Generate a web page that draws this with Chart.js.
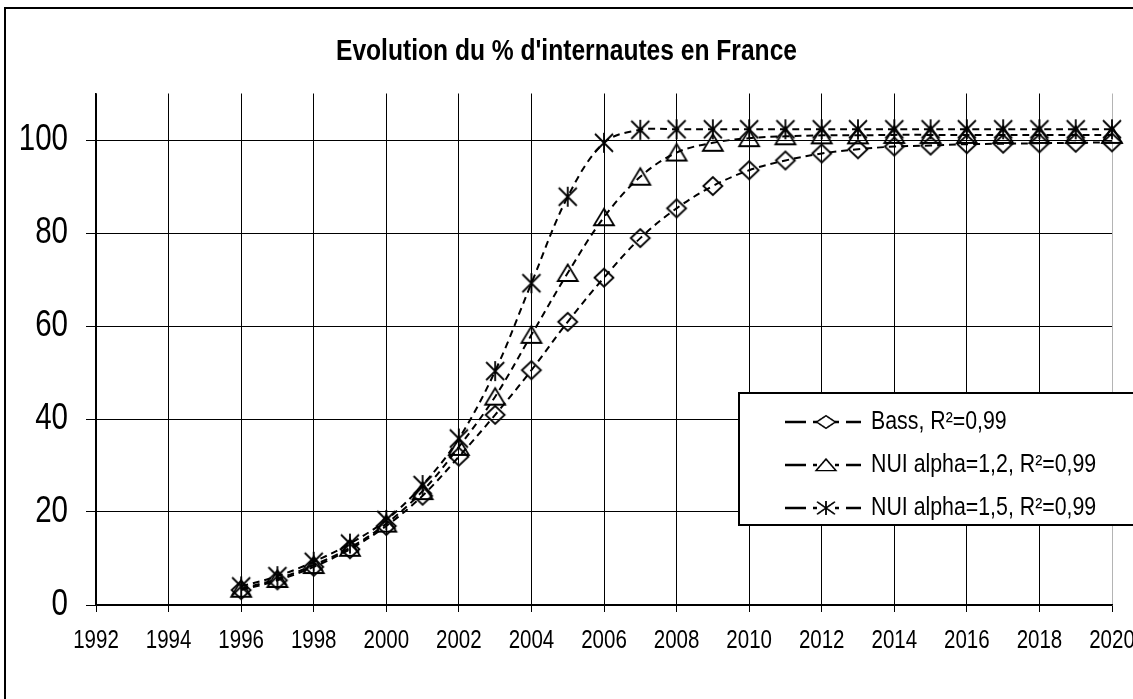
<!DOCTYPE html>
<html lang="fr">
  <head>
    <meta charset="UTF-8" />
    <title>Evolution du % d'internautes en France</title>
    <script src="https://cdn.jsdelivr.net/npm/chart.js@4"></script>
    <style>
      body {
        margin: 0;
        background: #fff;
        overflow: hidden;
      }
      #wrap {
        width: 1133px;
        height: 699px;
      }
    </style>
  </head>
  <body>
    <div id="wrap"><canvas id="chart" width="1133" height="699"></canvas></div>

    <script>
      // Data
      const years = [
        1996, 1997, 1998, 1999, 2000, 2001, 2002, 2003, 2004, 2005, 2006, 2007,
        2008, 2009, 2010, 2011, 2012, 2013, 2014, 2015, 2016, 2017, 2018, 2019,
        2020,
      ];
      const bass = [
        3.2, 5.3, 8.2, 12.0, 17.0, 23.5, 31.9, 40.9, 50.5, 60.9, 70.4, 78.9,
        85.3, 90.1, 93.5, 95.6, 97.1, 98.0, 98.6, 98.8, 99.1, 99.2, 99.3, 99.4,
        99.5,
      ];
      const nui12 = [
        3.5, 5.6, 8.6, 12.3, 17.5, 24.5, 34.0, 44.8, 58.1, 71.4, 83.4, 92.1,
        97.3, 99.4, 100.4, 100.8, 101.0, 101.0, 101.1, 101.1, 101.1, 101.1,
        101.1, 101.1, 101.1,
      ];
      const nui15 = [
        4.0, 6.2, 9.3, 13.2, 18.3, 25.8, 35.8, 50.3, 69.2, 87.8, 99.4, 102.2,
        102.3, 102.3, 102.3, 102.3, 102.3, 102.3, 102.3, 102.3, 102.3, 102.3,
        102.3, 102.3, 102.3,
      ];
      const seriesNames = [
        "Bass, R²=0,99",
        "NUI alpha=1,2, R²=0,99",
        "NUI alpha=1,5, R²=0,99",
      ];
      const chartTitle = "Evolution du % d'internautes en France";
      const yearTicks = [
        1992, 1994, 1996, 1998, 2000, 2002, 2004, 2006, 2008, 2010, 2012, 2014,
        2016, 2018, 2020,
      ];
      const pctTicks = [0, 20, 40, 60, 80, 100];

      // Excel used Arial squeezed sideways; fake it with a horizontal scale
      const FONT = '"Liberation Sans", Arial, sans-serif';
      const SQUEEZE = 0.82;

      function narrowText(c, text, x, y, size, bold, align) {
        c.save();
        c.font = (bold ? "bold " : "") + size + "px " + FONT;
        c.fillStyle = "#000";
        c.textBaseline = "middle";
        c.textAlign = align;
        c.translate(x, y);
        c.scale(SQUEEZE, 1);
        c.fillText(text, 0, 0);
        c.restore();
      }

      // Excel-like hollow markers drawn on small canvases
      function makeMarker(kind) {
        const s = 26;
        const c = document.createElement("canvas");
        c.width = s;
        c.height = s;
        const g = c.getContext("2d");
        g.strokeStyle = "#000";
        g.lineWidth = 1.8;
        g.translate(s / 2, s / 2);
        g.beginPath();
        if (kind === "diamond") {
          g.moveTo(-9.5, 0);
          g.lineTo(0, -9);
          g.lineTo(9.5, 0);
          g.lineTo(0, 9);
          g.closePath();
        } else if (kind === "triangle") {
          g.moveTo(0, -8.5);
          g.lineTo(10, 8);
          g.lineTo(-10, 8);
          g.closePath();
        } else {
          g.moveTo(0, -10);
          g.lineTo(0, 10);
          g.moveTo(-9, -9);
          g.lineTo(9, 9);
          g.moveTo(9, -9);
          g.lineTo(-9, 9);
        }
        g.stroke();
        return c;
      }

      function series(label, values, marker) {
        return {
          label: label,
          data: years.map((y, i) => ({ x: y, y: values[i] })),
          borderColor: "#000",
          borderWidth: 2,
          borderDash: [7, 5],
          tension: 0.35,
          fill: false,
          clip: false,
          pointStyle: makeMarker(marker),
          pointRadius: 10,
          pointHoverRadius: 10,
        };
      }

      // White background + outer chart frame
      const framePlugin = {
        id: "frame",
        beforeDraw(chart) {
          const c = chart.ctx;
          c.save();
          c.fillStyle = "#fff";
          c.fillRect(0, 0, chart.width, chart.height);
          c.strokeStyle = "#000";
          c.lineWidth = 2;
          c.strokeRect(5, 8, 1300, 900);
          c.restore();
        },
      };

      // Title, tick labels and the boxed legend
      const textPlugin = {
        id: "texts",
        afterDraw(chart) {
          const c = chart.ctx;
          const xs = chart.scales.x;
          const ys = chart.scales.y;

          narrowText(c, chartTitle, chart.width / 2, 52, 30, true, "center");

          yearTicks.forEach((v) => {
            narrowText(c, String(v), xs.getPixelForValue(v), 641, 25, false, "center");
          });
          pctTicks.forEach((v) => {
            narrowText(c, String(v), 68, ys.getPixelForValue(v), 36, false, "right");
          });

          c.save();
          c.fillStyle = "#fff";
          c.fillRect(739, 393, 420, 132);
          c.strokeStyle = "#000";
          c.lineWidth = 2;
          c.strokeRect(739, 393, 420, 132);
          chart.data.datasets.forEach((ds, i) => {
            const y = 422 + i * 43;
            c.lineWidth = 2.5;
            c.beginPath();
            [[785, 806], [813, 817], [835, 839], [846, 861]].forEach((seg) => {
              c.moveTo(seg[0], y);
              c.lineTo(seg[1], y);
            });
            c.stroke();
            const m = ds.pointStyle;
            const mh = m.height * 0.7;
            c.drawImage(m, 826 - m.width / 2, y - mh / 2, m.width, mh);
            narrowText(c, ds.label, 871, y, 26, false, "left");
          });
          c.restore();
        },
      };

      const ctx = document.getElementById("chart").getContext("2d");
      new Chart(ctx, {
        type: "line",
        data: {
          datasets: [
            series(seriesNames[0], bass, "diamond"),
            series(seriesNames[1], nui12, "triangle"),
            series(seriesNames[2], nui15, "star"),
          ],
        },
        options: {
          responsive: false,
          animation: false,
          layout: { padding: { left: 0, right: 21, top: 93.5, bottom: 0 } },
          plugins: {
            legend: { display: false },
            tooltip: { enabled: false },
            title: { display: false },
          },
          scales: {
            x: {
              type: "linear",
              min: 1992,
              max: 2020,
              afterBuildTicks: (s) => {
                s.ticks = yearTicks.map((v) => ({ value: v }));
              },
              afterFit: (s) => {
                s.height = 94;
                s.paddingLeft = 0;
                s.paddingRight = 0;
              },
              ticks: { display: false },
              grid: {
                color: (c) =>
                  c.tick && c.tick.value === 2020 ? "#b4b4b4" : "#000",
                tickColor: "#000",
                lineWidth: 1,
                tickLength: 7,
              },
              border: { color: "#000", width: 1.5 },
            },
            y: {
              min: 0,
              max: 110,
              afterBuildTicks: (s) => {
                s.ticks = pctTicks.map((v) => ({ value: v }));
              },
              afterFit: (s) => {
                s.width = 96;
                s.paddingTop = 0;
                s.paddingBottom = 0;
              },
              ticks: { display: false },
              grid: {
                color: "#000",
                tickColor: "#000",
                lineWidth: 1,
                tickLength: 10,
              },
              border: { color: "#000", width: 1.5 },
            },
          },
        },
        plugins: [framePlugin, textPlugin],
      });
    </script>
  </body>
</html>
